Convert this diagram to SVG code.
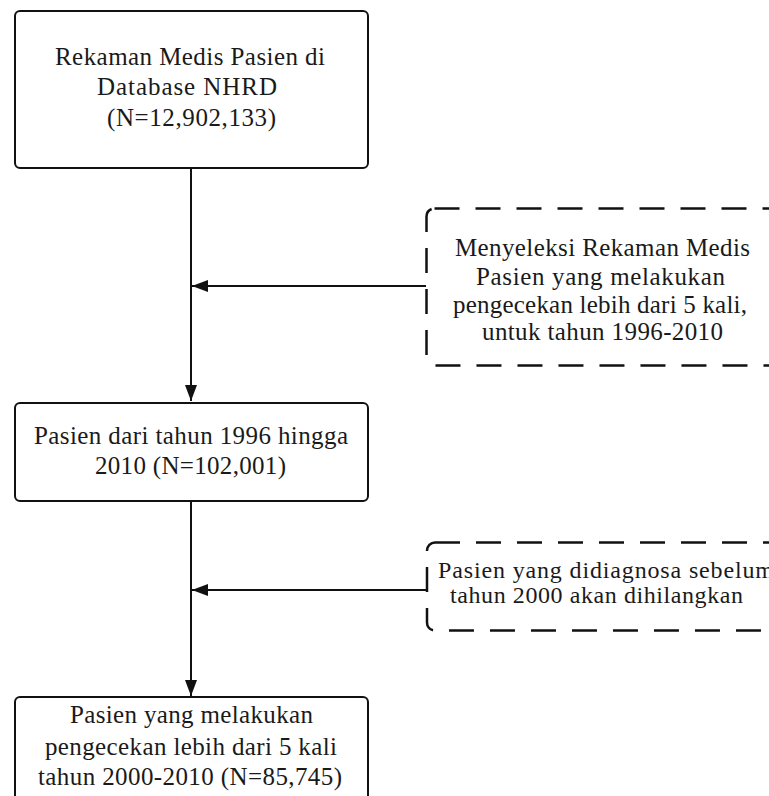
<svg xmlns="http://www.w3.org/2000/svg" width="769" height="796" viewBox="0 0 769 796">
<style>
.box{fill:#fff;stroke:#111;stroke-width:2}
.dash{fill:#fff;stroke:#111;stroke-width:2.5;stroke-dasharray:25 16}
.t{font-family:"Liberation Serif","Times New Roman",serif;font-size:25px;fill:#1a1a1a}
.s{font-size:24px}
.c{stroke:#111;stroke-width:2;fill:none}
</style>
<defs>
<marker id="ah" markerUnits="userSpaceOnUse" markerWidth="16" markerHeight="12" viewBox="0 0 16 12" refX="16" refY="6" orient="auto">
<path d="M0,0 L16,6 L0,12 Z" fill="#111"/>
</marker>
</defs>
<rect width="769" height="796" fill="#fff"/>
<g id="connectors">
<line class="c" x1="191" y1="168" x2="191" y2="401" marker-end="url(#ah)"/>
<line class="c" x1="426" y1="286" x2="192" y2="286" marker-end="url(#ah)"/>
<line class="c" x1="191" y1="501" x2="191" y2="696" marker-end="url(#ah)"/>
<line class="c" x1="427" y1="590" x2="192" y2="590" marker-end="url(#ah)"/>
</g>
<g id="n1">
<rect class="box" x="15" y="11" width="353" height="157" rx="5"/>
<text class="t" x="55" y="64.5" textLength="270" lengthAdjust="spacing">Rekaman Medis Pasien di</text>
<text class="t" x="97" y="95" textLength="180" lengthAdjust="spacing">Database NHRD</text>
<text class="t" x="107" y="125.5" textLength="169" lengthAdjust="spacing">(N=12,902,133)</text>
</g>
<g id="n2">
<rect class="dash" x="426.5" y="208.5" width="356" height="157" rx="8"/>
<text class="t" x="455" y="256" textLength="295" lengthAdjust="spacing">Menyeleksi Rekaman Medis</text>
<text class="t" x="476" y="284.5" textLength="249" lengthAdjust="spacing">Pasien yang melakukan</text>
<text class="t" x="453" y="313" textLength="294" lengthAdjust="spacing">pengecekan lebih dari 5 kali,</text>
<text class="t" x="482" y="340" textLength="241" lengthAdjust="spacing">untuk tahun 1996-2010</text>
</g>
<g id="n3">
<rect class="box" x="15" y="403" width="353" height="98" rx="5"/>
<text class="t" x="34" y="443.5" textLength="314" lengthAdjust="spacing">Pasien dari tahun 1996 hingga</text>
<text class="t" x="95" y="473.5" textLength="191" lengthAdjust="spacing">2010 (N=102,001)</text>
</g>
<g id="n4">
<rect class="dash" x="427" y="542.5" width="356" height="88" rx="8"/>
<text class="t s" x="438" y="577.5" textLength="336" lengthAdjust="spacing">Pasien yang didiagnosa sebelum</text>
<text class="t s" x="450" y="603" textLength="293" lengthAdjust="spacing">tahun 2000 akan dihilangkan</text>
</g>
<g id="n5">
<rect class="box" x="15" y="697" width="353" height="120" rx="5"/>
<text class="t" x="70" y="723" textLength="243" lengthAdjust="spacing">Pasien yang melakukan</text>
<text class="t" x="45" y="755" textLength="292" lengthAdjust="spacing">pengecekan lebih dari 5 kali</text>
<text class="t" x="38" y="785" textLength="304" lengthAdjust="spacing">tahun 2000-2010 (N=85,745)</text>
</g>
</svg>
